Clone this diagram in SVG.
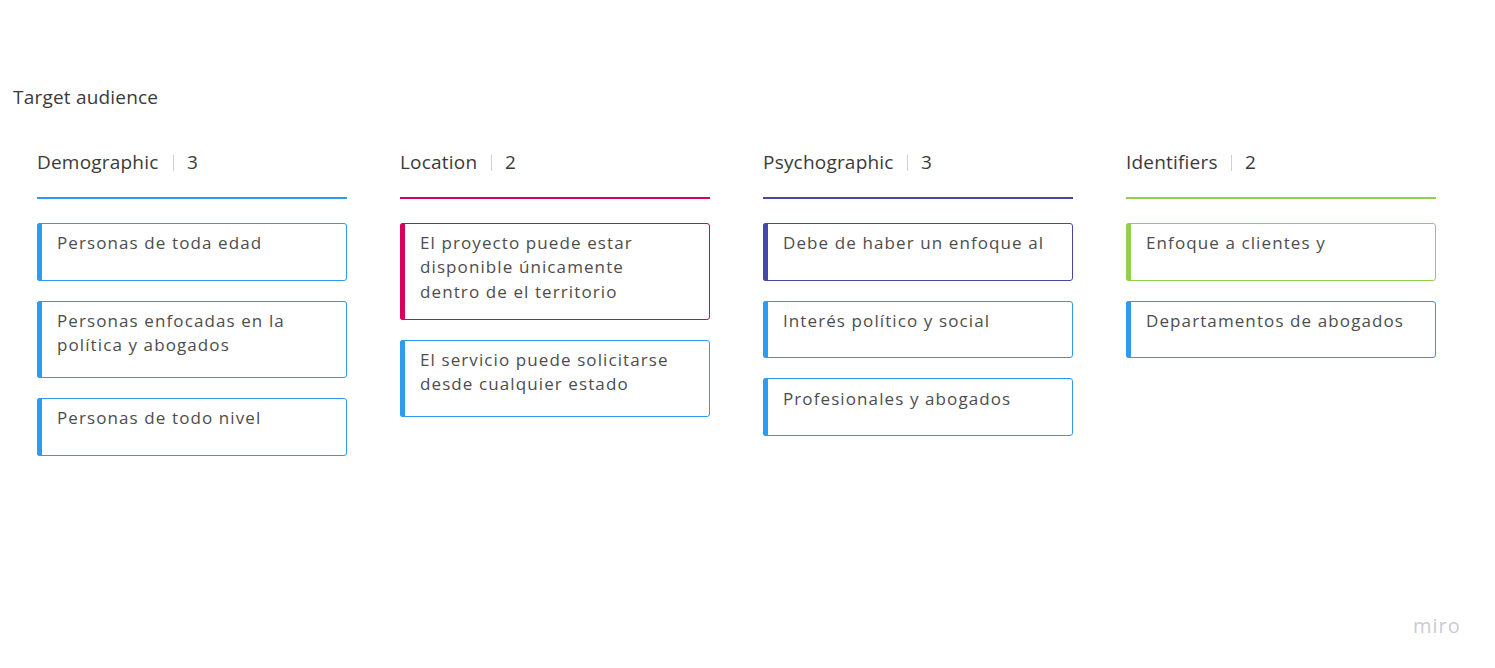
<svg xmlns="http://www.w3.org/2000/svg" width="1495" height="668" viewBox="0 0 1495 668">
  <style>
    text { font-family: "Open Sans", "Noto Sans", "Liberation Sans", sans-serif; }
    .title { font-size: 19px; fill: #3a3a3a; letter-spacing: 0.2px; }
    .head { font-size: 19px; fill: #3a3a3a; letter-spacing: 0.2px; }
    .sep { stroke: #d0d0d0; stroke-width: 1; }
    .card-text { font-size: 17px; fill: #4d4d4d; letter-spacing: 1.1px; }
    .card { fill: #ffffff; stroke-width: 1; }
    .blue { stroke: #2d9bf0; }
    .blue-f { fill: #2d9bf0; }
    .red { stroke: #d5035f; }
    .red-f { fill: #d5035f; }
    .purple { stroke: #4448a8; }
    .purple-f { fill: #4448a8; }
    .green { stroke: #8fd14f; }
    .green-f { fill: #8fd14f; }
    .wm { font-size: 20px; fill: #c9cbd6; letter-spacing: 1px; }
  </style>
  <rect width="1495" height="668" fill="#ffffff"/>

  <text class="title" x="13" y="104">Target audience</text>

  <!-- Column: Demographic -->
  <g id="demographic">
    <text class="head" x="37" y="169">Demographic</text>
    <line class="sep" x1="173.5" y1="155" x2="173.5" y2="171"/>
    <text class="head" x="187" y="169">3</text>
    <rect class="blue-f" x="37" y="197" width="310" height="2"/>
  </g>
  <g id="demo-1">
    <rect class="card blue" x="37.5" y="223.5" width="309" height="57" rx="2.5"/>
    <path class="blue-f" d="M40,223 h2 v58 h-2 a3,3 0 0 1 -3,-3 v-52 a3,3 0 0 1 3,-3 z"/>
    <text class="card-text" x="57" y="249">Personas de toda edad</text>
  </g>
  <g id="demo-2">
    <rect class="card blue" x="37.5" y="301.5" width="309" height="76" rx="2.5"/>
    <path class="blue-f" d="M40,301 h2 v77 h-2 a3,3 0 0 1 -3,-3 v-71 a3,3 0 0 1 3,-3 z"/>
    <text class="card-text" x="57" y="327">Personas enfocadas en la</text>
    <text class="card-text" x="57" y="351">política y abogados</text>
  </g>
  <g id="demo-3">
    <rect class="card blue" x="37.5" y="398.5" width="309" height="57" rx="2.5"/>
    <path class="blue-f" d="M40,398 h2 v58 h-2 a3,3 0 0 1 -3,-3 v-52 a3,3 0 0 1 3,-3 z"/>
    <text class="card-text" x="57" y="424">Personas de todo nivel</text>
  </g>

  <!-- Column: Location -->
  <g id="location">
    <text class="head" x="400" y="169">Location</text>
    <line class="sep" x1="491.5" y1="155" x2="491.5" y2="171"/>
    <text class="head" x="505" y="169">2</text>
    <rect class="red-f" x="400" y="197" width="310" height="2"/>
  </g>
  <g id="loc-1">
    <rect class="card red" x="400.5" y="223.5" width="309" height="96" rx="2.5"/>
    <path class="red-f" d="M403,223 h2 v97 h-2 a3,3 0 0 1 -3,-3 v-91 a3,3 0 0 1 3,-3 z"/>
    <text class="card-text" x="420" y="249">El proyecto puede estar</text>
    <text class="card-text" x="420" y="273">disponible únicamente</text>
    <text class="card-text" x="420" y="298">dentro de el territorio</text>
  </g>
  <g id="loc-2">
    <rect class="card blue" x="400.5" y="340.5" width="309" height="76" rx="2.5"/>
    <path class="blue-f" d="M403,340 h2 v77 h-2 a3,3 0 0 1 -3,-3 v-71 a3,3 0 0 1 3,-3 z"/>
    <text class="card-text" x="420" y="366">El servicio puede solicitarse</text>
    <text class="card-text" x="420" y="390">desde cualquier estado</text>
  </g>

  <!-- Column: Psychographic -->
  <g id="psychographic">
    <text class="head" x="763" y="169">Psychographic</text>
    <line class="sep" x1="907.5" y1="155" x2="907.5" y2="171"/>
    <text class="head" x="921" y="169">3</text>
    <rect class="purple-f" x="763" y="197" width="310" height="2"/>
  </g>
  <g id="psy-1">
    <rect class="card purple" x="763.5" y="223.5" width="309" height="57" rx="2.5"/>
    <path class="purple-f" d="M766,223 h2 v58 h-2 a3,3 0 0 1 -3,-3 v-52 a3,3 0 0 1 3,-3 z"/>
    <text class="card-text" x="783" y="249">Debe de haber un enfoque al</text>
  </g>
  <g id="psy-2">
    <rect class="card blue" x="763.5" y="301.5" width="309" height="56" rx="2.5"/>
    <path class="blue-f" d="M766,301 h2 v57 h-2 a3,3 0 0 1 -3,-3 v-51 a3,3 0 0 1 3,-3 z"/>
    <text class="card-text" x="783" y="327">Interés político y social</text>
  </g>
  <g id="psy-3">
    <rect class="card blue" x="763.5" y="378.5" width="309" height="57" rx="2.5"/>
    <path class="blue-f" d="M766,378 h2 v58 h-2 a3,3 0 0 1 -3,-3 v-52 a3,3 0 0 1 3,-3 z"/>
    <text class="card-text" x="783" y="405">Profesionales y abogados</text>
  </g>

  <!-- Column: Identifiers -->
  <g id="identifiers">
    <text class="head" x="1126" y="169">Identifiers</text>
    <line class="sep" x1="1231.5" y1="155" x2="1231.5" y2="171"/>
    <text class="head" x="1245" y="169">2</text>
    <rect class="green-f" x="1126" y="197" width="310" height="2"/>
  </g>
  <g id="id-1">
    <rect class="card green" x="1126.5" y="223.5" width="309" height="57" rx="2.5"/>
    <path class="green-f" d="M1129,223 h2 v58 h-2 a3,3 0 0 1 -3,-3 v-52 a3,3 0 0 1 3,-3 z"/>
    <text class="card-text" x="1146" y="249">Enfoque a clientes y</text>
  </g>
  <g id="id-2">
    <rect class="card blue" x="1126.5" y="301.5" width="309" height="56" rx="2.5"/>
    <path class="blue-f" d="M1129,301 h2 v57 h-2 a3,3 0 0 1 -3,-3 v-51 a3,3 0 0 1 3,-3 z"/>
    <text class="card-text" x="1146" y="327">Departamentos de abogados</text>
  </g>

  <g id="connectors"/>

  <text class="wm" x="1413" y="633">miro</text>
</svg>
